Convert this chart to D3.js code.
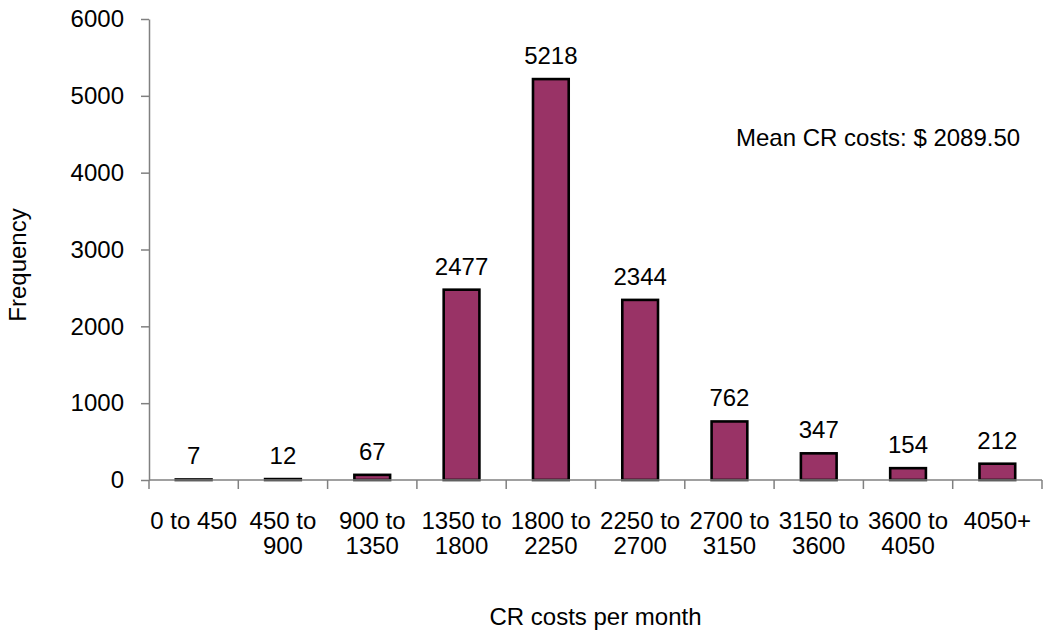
<!DOCTYPE html>
<html>
<head>
<meta charset="utf-8">
<script src="https://cdn.jsdelivr.net/npm/d3@7"></script>
<style>
  html, body { margin: 0; padding: 0; background: #fff; }
  svg text { font-family: Arial, "Liberation Sans", sans-serif; fill: #000; }
</style>
</head>
<body>
<svg id="chart" width="1043" height="633"></svg>
<script>
// Monthly CR cost bins (two-line labels) and their frequencies
const categories = [
  ["0 to 450"], ["450 to", "900"], ["900 to", "1350"], ["1350 to", "1800"],
  ["1800 to", "2250"], ["2250 to", "2700"], ["2700 to", "3150"],
  ["3150 to", "3600"], ["3600 to", "4050"], ["4050+"]
];
const frequencies = [7, 12, 67, 2477, 5218, 2344, 762, 347, 154, 212];
const yTicks = [0, 1000, 2000, 3000, 4000, 5000, 6000];
const meanLabel = "Mean CR costs: $ 2089.50";
const xTitle = "CR costs per month";
const yTitle = "Frequency";

const svg = d3.select("#chart");
const plotLeft = 149, plotRight = 1042, plotTop = 19, plotBottom = 480;
const fontSize = 24;
const axisColor = "#808080";

const keys = categories.map(c => c.join(" "));
const x = d3.scaleBand().domain(keys).range([plotLeft, plotRight]).paddingInner(0).paddingOuter(0);
const y = d3.scaleLinear().domain([0, 6000]).range([plotBottom, plotTop]);

const barW = x.bandwidth() * 0.4;

// Bars
svg.append("g").selectAll("rect")
  .data(frequencies)
  .join("rect")
  .attr("x", (d, i) => x(keys[i]) + (x.bandwidth() - barW) / 2)
  .attr("y", d => y(d))
  .attr("width", barW)
  .attr("height", d => plotBottom - y(d))
  .attr("fill", "#993366")
  .attr("stroke", "#000")
  .attr("stroke-width", 2.6);

// Y axis
const yAxis = svg.append("g")
  .attr("transform", `translate(${plotLeft},0)`)
  .call(d3.axisLeft(y).tickValues(yTicks).tickSize(8).tickSizeOuter(0).tickPadding(17).tickFormat(d3.format("d")));
yAxis.select(".domain").attr("stroke", axisColor).attr("stroke-width", 1.5);
yAxis.selectAll(".tick line").attr("stroke", axisColor).attr("stroke-width", 1.5);
yAxis.selectAll(".tick text").style("font-size", fontSize + "px").attr("fill", "#000");

// X axis: ticks at band boundaries
const xAxis = svg.append("g").attr("transform", `translate(0,${plotBottom})`);
xAxis.append("line")
  .attr("x1", plotLeft).attr("x2", plotRight)
  .attr("y1", 0).attr("y2", 0)
  .attr("stroke", axisColor).attr("stroke-width", 1.5);
const boundaries = keys.map(k => x(k)).concat([plotRight]);
xAxis.selectAll("line.tick")
  .data(boundaries)
  .join("line")
  .attr("class", "tick")
  .attr("x1", d => d).attr("x2", d => d)
  .attr("y1", 0).attr("y2", 9)
  .attr("stroke", axisColor).attr("stroke-width", 1.5);

// Category labels
const catG = svg.append("g");
categories.forEach((lines, i) => {
  const cx = x(keys[i]) + x.bandwidth() / 2;
  const t = catG.append("text")
    .attr("x", cx)
    .attr("y", 529)
    .attr("text-anchor", "middle")
    .style("font-size", fontSize + "px");
  lines.forEach((ln, j) => {
    t.append("tspan")
      .attr("x", cx)
      .attr("dy", j === 0 ? 0 : 25)
      .text(ln);
  });
});

// Value labels
svg.append("g").selectAll("text")
  .data(frequencies)
  .join("text")
  .attr("x", (d, i) => x(keys[i]) + x.bandwidth() / 2)
  .attr("y", d => y(d) - 15)
  .attr("text-anchor", "middle")
  .style("font-size", fontSize + "px")
  .text(d => d);

// Mean annotation
svg.append("text")
  .attr("x", 736).attr("y", 146)
  .style("font-size", fontSize + "px")
  .text(meanLabel);

// Axis titles
svg.append("text")
  .attr("x", (plotLeft + plotRight) / 2).attr("y", 625)
  .attr("text-anchor", "middle")
  .style("font-size", fontSize + "px")
  .text(xTitle);

svg.append("text")
  .attr("transform", "translate(26,265) rotate(-90)")
  .attr("text-anchor", "middle")
  .style("font-size", fontSize + "px")
  .text(yTitle);
</script>
</body>
</html>
